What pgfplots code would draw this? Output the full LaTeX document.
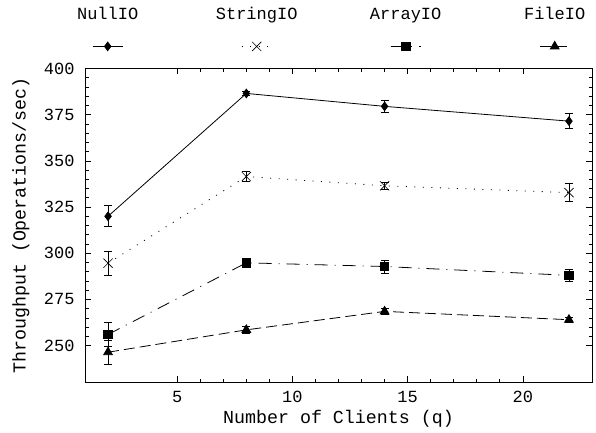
\documentclass[border=0pt]{standalone}
\usepackage{fontspec}
\setmainfont{Liberation Mono}
\usepackage{pgfplots}
\usepackage{pgfplotstable}
\pgfplotsset{compat=1.18}
\usetikzlibrary{calc}

\pgfplotstableread{
x y e
2 320.0 5.7
8 386.5 1.2
14 379.5 3.0
22 371.5 4.0
}\nullio
\pgfplotstableread{
x y e
2 294.6 6.5
8 341.5 2.7
14 336.5 2.0
22 332.8 5.0
}\stringio
\pgfplotstableread{
x y e
2 256.0 6.3
8 294.8 1.0
14 292.8 3.5
22 288.0 3.0
}\arrayio
\pgfplotstableread{
x y e
2 246.4 6.5
8 258.5 2.0
14 268.5 1.8
22 264.0 1.2
}\fileio

\begin{document}
\begin{tikzpicture}
\begin{axis}[
  name=ax,
  scale only axis,
  width=507pt, height=314pt,
  xmin=1, xmax=23, ymin=230, ymax=400,
  xtick={5,10,15,20}, ytick={250,275,...,400},
  minor x tick num=4, minor y tick num=4,
  tick align=inside,
  major tick length=6pt, minor tick length=3.5pt,
  tick style={black, line width=0.7pt},
  axis line style={line width=0.9pt},
  font=\fontsize{17}{20}\selectfont,
  /pgf/number format/assume math mode=true,
  xticklabel style={yshift=-5pt},
  yticklabel style={xshift=-7pt},
  xlabel={Number of Clients (q)},
  ylabel={Throughput (Operations/sec)},
  every axis x label/.style={at={(rel axis cs:0.5,0)}, anchor=center, yshift=-36pt, font=\fontsize{18.3}{22}\selectfont},
  every axis y label/.style={at={(rel axis cs:0,0.5)}, anchor=center, rotate=90, yshift=64pt, font=\fontsize{18.3}{22}\selectfont},
  legend columns=4,
  legend style={draw=none, fill=none, at={(rel axis cs:0,1)}, anchor=south west,
    xshift=-55pt, yshift=45pt,
    nodes={inner sep=0pt, font=\fontsize{17}{20}\selectfont},
    /tikz/every even column/.style={column sep=0pt},
    /tikz/every odd column/.style={column sep=0pt}},
  legend image code/.code={%
    \draw[overlay,#1,shift={(74.5pt,-32pt)},mark repeat=2,mark phase=2]
      plot coordinates {(-15pt,0pt) (0pt,0pt) (15pt,0pt)};},
  every axis plot/.append style={black, line width=0.8pt},
  error bars/error bar style={solid, line width=0.8pt},
  error bars/error mark options={rotate=90, mark size=4pt, solid, line width=0.8pt},
]
\addplot[mark=diamond*, mark size=4.3pt, mark options={solid}]
  plot[error bars/.cd, y dir=both, y explicit] table[x=x, y=y, y error=e] {\nullio};
\addlegendentry{\makebox[149pt]{NullIO}}
\addplot[dash pattern=on 1pt off 7.5pt, mark=x, mark size=6.5pt, mark options={solid, line width=0.6pt}]
  plot[error bars/.cd, y dir=both, y explicit] table[x=x, y=y, y error=e] {\stringio};
\addlegendentry{\makebox[149pt]{StringIO}}
\addplot[dash pattern=on 13pt off 7pt on 1pt off 7pt, mark=square*, mark size=4.2pt, mark options={solid}]
  plot[error bars/.cd, y dir=both, y explicit] table[x=x, y=y, y error=e] {\arrayio};
\addlegendentry{\makebox[149pt]{ArrayIO}}
\addplot[dash pattern=on 11pt off 5pt, mark=triangle*, mark size=5pt, mark options={solid}]
  plot[error bars/.cd, y dir=both, y explicit] table[x=x, y=y, y error=e] {\fileio};
\addlegendentry{\makebox[149pt]{FileIO}}
\end{axis}
\pgfresetboundingbox
\path ($(ax.south west)+(-85pt,-50.3pt)$) rectangle ($(ax.north east)+(4pt,68.5pt)$);
\end{tikzpicture}
\end{document}
